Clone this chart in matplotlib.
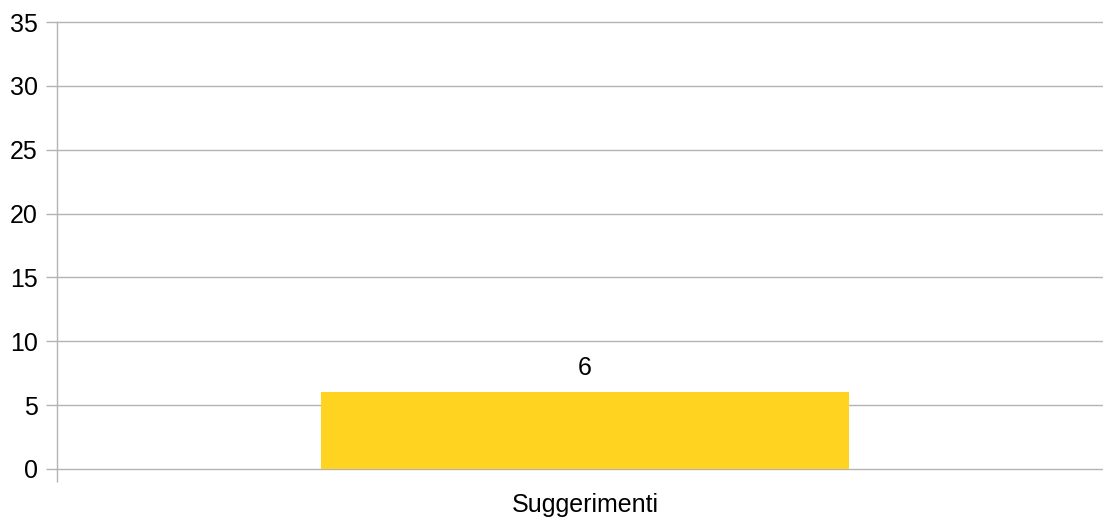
import matplotlib

matplotlib.use("Agg")
import matplotlib.pyplot as plt

categories = ["Suggerimenti"]
values = [6]
y_ticks = [0, 5, 10, 15, 20, 25, 30, 35]

BAR_COLOR = "#FFD320"
GRID_COLOR = "#B3B3B3"
FONT_SIZE = 18

plt.rcParams["font.family"] = ["Liberation Sans", "DejaVu Sans"]

fig = plt.figure(figsize=(11.03, 5.18), dpi=100)
# plot area runs a little past the right edge, like the source export
ax = fig.add_axes([57 / 1103, 49 / 518, (1113 - 57) / 1103, 447 / 518])

x = list(range(len(categories)))
bars = ax.bar(x, values, width=0.50, color=BAR_COLOR, zorder=3)
ax.bar_label(bars, labels=[str(v) for v in values], padding=9, fontsize=FONT_SIZE)

ax.set_xlim(-0.5, len(categories) - 0.5)
ax.set_ylim(0, 35)
ax.set_yticks(y_ticks)
ax.set_yticklabels([str(t) for t in y_ticks], fontsize=FONT_SIZE)
ax.yaxis.grid(True, color=GRID_COLOR, linewidth=1.0, zorder=0)
for line in ax.get_ygridlines():
    line.set_clip_on(False)

# category boundaries get the outward ticks, labels sit at the centre
ax.set_xticks([i - 0.5 for i in range(len(categories) + 1)])
ax.set_xticklabels([])
ax.set_xticks(x, minor=True)
ax.set_xticklabels(categories, minor=True, fontsize=FONT_SIZE)
ax.tick_params(axis="x", which="major", length=9, color=GRID_COLOR, width=1.0)
ax.tick_params(axis="x", which="minor", length=0, pad=17)
ax.tick_params(axis="y", length=8, color=GRID_COLOR, width=1.0, pad=6)

for side in ("top", "right", "bottom"):
    ax.spines[side].set_visible(False)
ax.spines["left"].set_color(GRID_COLOR)
ax.spines["left"].set_linewidth(1.0)

fig.savefig("out.png", dpi=100)
